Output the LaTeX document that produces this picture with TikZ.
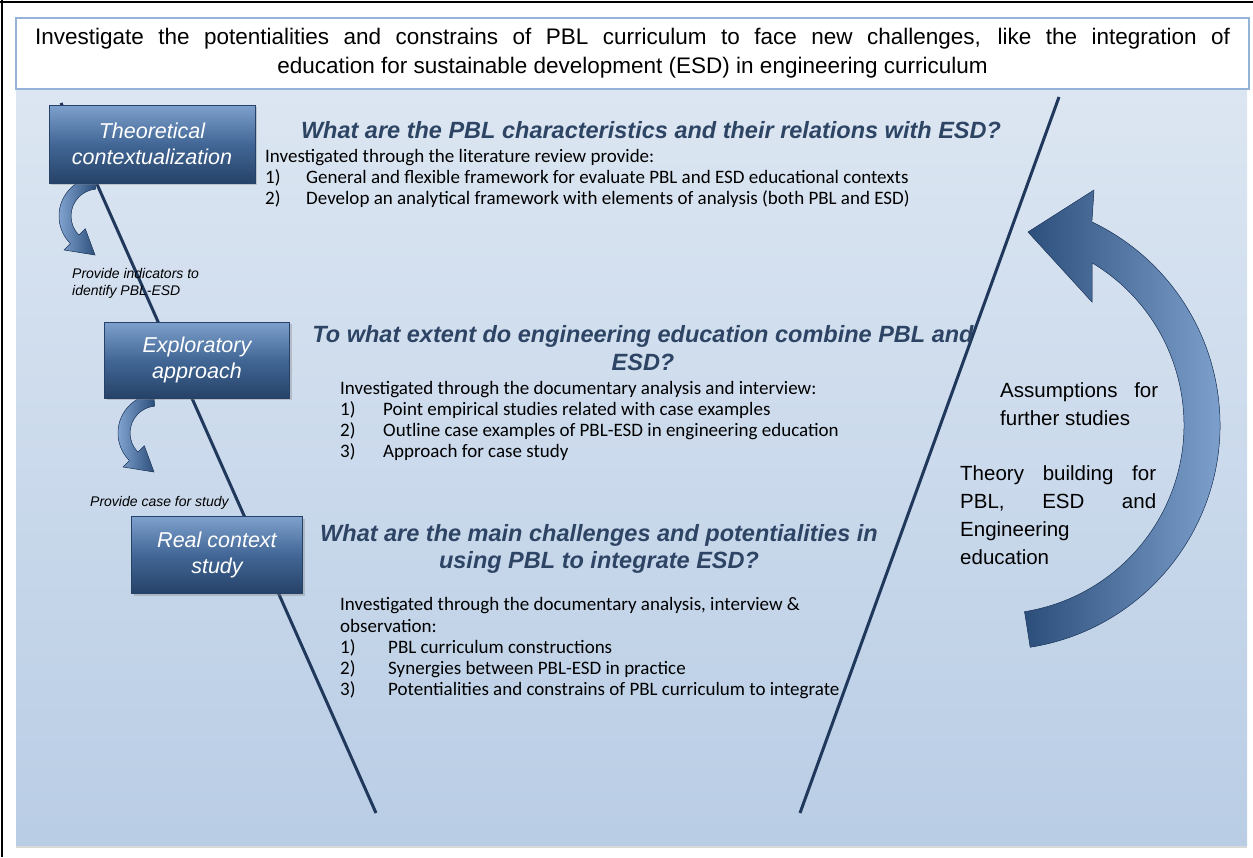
\documentclass[tikz,border=0pt]{standalone}
\usepackage{fontspec}
\setmainfont{Liberation Sans}
\newfontfamily\calib{Carlito}
\usetikzlibrary{shadows}

\definecolor{panelarriba}{RGB}{220,230,242}
\definecolor{panelabajo}{RGB}{185,205,229}
\definecolor{marco}{RGB}{149,179,215}
\definecolor{cajaarriba}{RGB}{126,160,204}
\definecolor{cajamedio}{RGB}{66,103,150}
\definecolor{cajaabajo}{RGB}{38,66,104}
\definecolor{pregazul}{RGB}{45,68,100}
\definecolor{lineazul}{RGB}{31,56,92}
\definecolor{flechaosc}{RGB}{44,78,122}
\definecolor{flechacla}{RGB}{132,166,210}

\begin{document}
\begin{tikzpicture}[x=1pt, y=-1pt,
    caja/.style={draw=cajaabajo, line width=0.6pt, top color=cajaarriba, bottom color=cajaabajo,
      middle color=cajamedio, text=white, align=center, inner sep=2pt,
      font=\fontsize{21.5}{26}\selectfont\itshape,
      drop shadow={shadow xshift=2pt, shadow yshift=-2pt, opacity=0.35}},
    pregunta/.style={text=pregazul, align=center, inner sep=0pt,
      font=\fontsize{23.5}{27.5}\selectfont\bfseries\itshape},
    cuerpo/.style={anchor=north west, align=left, inner sep=0pt,
      font=\calib\fontsize{19}{21.2}\selectfont},
    nota/.style={anchor=west, align=left, inner sep=0pt,
      font=\fontsize{14}{17}\selectfont\itshape},
    derecha/.style={anchor=north west, inner sep=0pt, align=justify,
      font=\fontsize{20.5}{28}\selectfont},
    linea/.style={draw=lineazul, line width=3pt},
    flecha/.style={left color=flechaosc, right color=flechacla, draw=cajaabajo, line width=0.5pt},
    flechap/.style={left color=flechacla, right color=flechaosc, draw=cajaabajo, line width=0.5pt}]
  \useasboundingbox (0,0) rectangle (1253,857);
  % marco exterior
  \draw[black, line width=2.5pt] (0,2) -- (1253,2);
  \draw[black, line width=2.5pt] (2,0) -- (2,857);
  % panel de fondo
  \fill[top color=panelarriba, bottom color=panelabajo,
    drop shadow={shadow xshift=0pt, shadow yshift=-3pt, opacity=0.3}] (16,89) rectangle (1247,845);
  \node[draw=marco, line width=1.5pt, fill=white, minimum width=1233pt, minimum height=71pt,
    align=center, font=\fontsize{22.5}{29}\selectfont] (titulo) at (632.5,53.5)
    {\makebox[1195pt][s]{Investigate the potentialities and constrains of PBL curriculum to face new challenges, like the integration of}\\
     education for sustainable development (ESD) in engineering curriculum};
  % lineas diagonales
  \coordinate (izqA) at (61,103);
  \coordinate (izqB) at (376,813);
  \coordinate (derA) at (1059,97);
  \coordinate (derB) at (800,813);
  \draw[linea] (izqA) -- (izqB);
  \draw[linea] (derA) -- (derB);
  % flechas pequenas
  \begin{scope}[shift={(98,216)}]
    \filldraw[flechap] (265:39) arc[start angle=265, end angle=135, radius=39] -- (135:48)
      -- (-3,39) -- (135:18) -- (135:27) arc[start angle=135, end angle=265, radius=27] -- cycle;
  \end{scope}
  \begin{scope}[shift={(157,433)}]
    \filldraw[flechap] (265:39) arc[start angle=265, end angle=135, radius=39] -- (135:48)
      -- (-3,39) -- (135:18) -- (135:27) arc[start angle=135, end angle=265, radius=27] -- cycle;
  \end{scope}
  % flecha grande
  \begin{scope}[shift={(995,425)}]
    \filldraw[flecha] (81:225) arc[start angle=81, end angle=-64.5, radius=225] -- (99,-235)
      -- (33,-193) -- (97,-123) -- (-59.1:189) arc[start angle=-59.1, end angle=81, radius=189] -- cycle;
  \end{scope}
  % cajas
  \node[caja, minimum width=206pt, minimum height=78pt] (teo) at (152,144) {Theoretical\\contextualization};
  \node[caja, minimum width=185pt, minimum height=76pt] (exp) at (197,360) {Exploratory\\approach};
  \node[caja, minimum width=171pt, minimum height=77pt] (real) at (217,555) {Real context\\study};
  \node[nota] (ind) at (72,283) {Provide indicators to\\identify PBL-ESD};
  \node[nota] (caso) at (90,503) {Provide case for study};
  % preguntas
  \node[pregunta] (preg1) at (651,130) {What are the PBL characteristics and their relations with ESD?};
  \node[cuerpo] (cuer1) at (265,149) {Investigated through the literature review provide:\\
    \makebox[41pt][l]{1)}General and flexible framework for evaluate PBL and ESD educational contexts\\
    \makebox[41pt][l]{2)}Develop an analytical framework with elements of analysis (both PBL and ESD)};
  \node[pregunta] (preg2) at (643,348) {To what extent do engineering education combine PBL and\\ESD?};
  \node[cuerpo] (cuer2) at (340,381) {Investigated through the documentary analysis and interview:\\
    \makebox[43pt][l]{1)}Point empirical studies related with case examples\\
    \makebox[43pt][l]{2)}Outline case examples of PBL-ESD in engineering education\\
    \makebox[43pt][l]{3)}Approach for case study};
  \node[pregunta] (preg3) at (599,549) {What are the main challenges and potentialities in\\using PBL to integrate ESD?};
  \node[cuerpo] (cuer3) at (340,597.5) {Investigated through the documentary analysis, interview \&\\
    observation:\\
    \makebox[48pt][l]{1)}PBL curriculum constructions\\
    \makebox[48pt][l]{2)}Synergies between PBL-ESD in practice\\
    \makebox[48pt][l]{3)}Potentialities and constrains of PBL curriculum to integrate};
  % texto derecho
  \node[derecha, text width=158pt] (supuestos) at (1000,382)
    {Assumptions for further studies};
  \node[derecha, text width=196pt] (teoria) at (960,465)
    {Theory building for\linebreak PBL, ESD and\linebreak \mbox{Engineering}\\\mbox{education}};
\end{tikzpicture}
\end{document}
